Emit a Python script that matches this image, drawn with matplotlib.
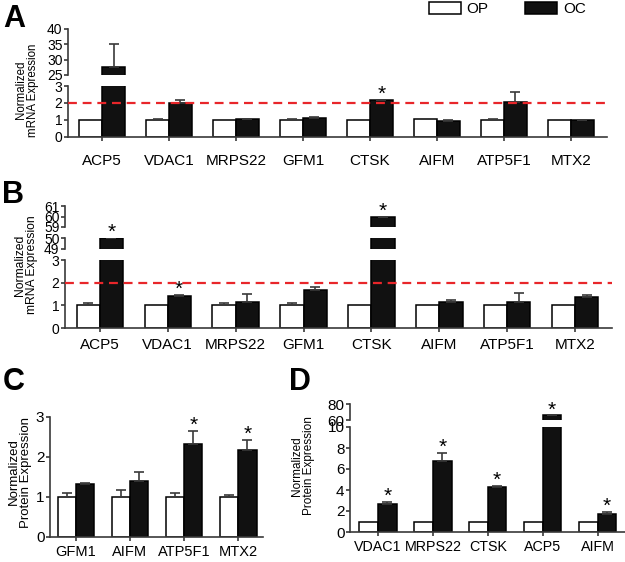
"""Recreate the OP vs OC mRNA / protein expression figure (panels A-D)."""

import matplotlib

matplotlib.use("Agg")

import matplotlib.pyplot as plt  # noqa: E402
import numpy as np  # noqa: E402
from matplotlib.patches import Patch  # noqa: E402

plt.rcParams["font.family"] = ["Liberation Sans", "DejaVu Sans"]

# ─── Data ────────────────────────────────────────────────────────────────────

genes_ab = ["ACP5", "VDAC1", "MRPS22", "GFM1", "CTSK", "AIFM", "ATP5F1", "MTX2"]

op_a = [1.0, 1.0, 1.0, 1.0, 1.0, 1.03, 1.0, 1.0]
op_err_a = [0.02, 0.03, 0.02, 0.03, 0.02, 0.05, 0.03, 0.02]
oc_a = [27.5, 2.0, 1.05, 1.12, 2.15, 0.95, 2.08, 1.0]
oc_err_a = [7.5, 0.2, 0.02, 0.04, 0.05, 0.03, 0.55, 0.02]
star_a = [False, False, False, False, True, False, False, False]

op_b = [1.0, 1.0, 1.0, 1.0, 1.0, 1.0, 1.0, 1.0]
op_err_b = [0.1, 0.03, 0.12, 0.11, 0.02, 0.02, 0.02, 0.02]
oc_b = [50.0, 1.42, 1.16, 1.67, 60.0, 1.16, 1.16, 1.38]
oc_err_b = [0.0, 0.04, 0.33, 0.12, 0.0, 0.07, 0.38, 0.09]
star_b = [True, True, False, False, True, False, False, False]

genes_c = ["GFM1", "AIFM", "ATP5F1", "MTX2"]
op_c = [1.0, 1.0, 1.0, 1.0]
op_err_c = [0.11, 0.18, 0.09, 0.05]
oc_c = [1.33, 1.41, 2.33, 2.18]
oc_err_c = [0.03, 0.22, 0.32, 0.25]
star_c = [False, False, True, True]

genes_d = ["VDAC1", "MRPS22", "CTSK", "ACP5", "AIFM"]
op_d = [1.0, 1.0, 1.0, 1.0, 1.0]
op_err_d = [0.0, 0.0, 0.0, 0.0, 0.0]
oc_d = [2.7, 6.75, 4.3, 66.0, 1.75]
oc_err_d = [0.15, 0.8, 0.12, 0.0, 0.2]
star_d = [True, True, True, True, True]

# ─── Layout helpers (pixel boxes on a 625x562 canvas) ────────────────────────

W, H = 625, 562
SPINE = "#3a3a3a"
RED = "#e8262a"

fig = plt.figure(figsize=(W / 100, H / 100), dpi=100)


def add_ax(x0, y0, x1, y1):
    """Axes from pixel box: left, top, right, bottom."""
    return fig.add_axes([x0 / W, 1 - y1 / H, (x1 - x0) / W, (y1 - y0) / H])


def style(ax, ylim, yticks, ylab_size, bottom=True):
    ax.set_facecolor("none")
    ax.set_ylim(*ylim)
    ax.set_yticks(yticks)
    for side in ("top", "right"):
        ax.spines[side].set_visible(False)
    ax.spines["left"].set_color(SPINE)
    ax.spines["left"].set_linewidth(1.2)
    ax.spines["bottom"].set_color(SPINE)
    ax.spines["bottom"].set_linewidth(1.2)
    ax.tick_params(axis="y", length=3, width=1.2, color=SPINE, pad=1,
                   labelsize=ylab_size)
    ax.tick_params(axis="x", length=3, width=1.2, color=SPINE)
    if not bottom:
        ax.spines["bottom"].set_visible(False)
        ax.set_xticks([])


def draw_bars(ax, op, op_err, oc, oc_err, w):
    x = np.arange(len(op))
    ekw = dict(ecolor=SPINE, elinewidth=1.2, capsize=3.5, capthick=1.2)
    zeros = np.zeros(len(op))
    ax.bar(x - w / 2, op, w, color="white", edgecolor="black", linewidth=1.1,
           yerr=[zeros, op_err], error_kw=ekw, zorder=2)
    ax.bar(x + w / 2, oc, w, color="#111111", edgecolor="black", linewidth=1.1,
           yerr=[zeros, oc_err], error_kw=ekw, zorder=2)
    return x


def stars(ax, x, w, oc, oc_err, flags, lo, hi, size=15):
    for xi, m, e, s in zip(x, oc, oc_err, flags):
        top = m + e
        if s and lo <= top <= hi:
            ax.annotate("*", xy=(xi + w / 2, top), xytext=(0, -3),
                        textcoords="offset points", ha="center", va="bottom",
                        fontsize=size, annotation_clip=False)


# ─── Panel A ─────────────────────────────────────────────────────────────────

w = 0.34
xlim_ab = (-0.51, 7.54)

a_lo = add_ax(68, 86, 607, 137)
a_hi = add_ax(68, 29, 607, 75)
for ax, lim, ticks, bot in ((a_lo, (0, 3), [0, 1, 2, 3], True),
                            (a_hi, (25, 40), [25, 30, 35, 40], False)):
    x = draw_bars(ax, op_a, op_err_a, oc_a, oc_err_a, w)
    style(ax, lim, ticks, 10, bottom=bot)
    ax.set_xlim(*xlim_ab)
    stars(ax, x, w, oc_a, oc_err_a, star_a, *lim)
a_lo.axhline(2, color=RED, linestyle=(0, (4, 2.6)), linewidth=1.6, zorder=5)
a_lo.set_xticks(np.arange(len(genes_ab)))
a_lo.set_xticklabels(genes_ab, fontsize=11)
a_lo.tick_params(axis="x", pad=9)

# ─── Panel B ─────────────────────────────────────────────────────────────────

b_lo = add_ax(65, 260, 612, 328)
b_mid = add_ax(65, 238, 612, 249)
b_hi = add_ax(65, 206, 612, 227)
for ax, lim, ticks, bot in ((b_lo, (0, 3), [0, 1, 2, 3], True),
                            (b_mid, (49, 50), [49, 50], False),
                            (b_hi, (59, 61), [59, 60, 61], False)):
    x = draw_bars(ax, op_b, op_err_b, oc_b, oc_err_b, w)
    style(ax, lim, ticks, 10, bottom=bot)
    ax.set_xlim(*xlim_ab)
    stars(ax, x, w, oc_b, oc_err_b, star_b, *lim)
b_lo.axhline(2, color=RED, linestyle=(0, (4, 2.6)), linewidth=1.6, zorder=5)
b_lo.set_xticks(np.arange(len(genes_ab)))
b_lo.set_xticklabels(genes_ab, fontsize=11)
b_lo.tick_params(axis="x", pad=4)

# ─── Panel C ─────────────────────────────────────────────────────────────────

c_ax = add_ax(50, 417, 263, 537)
x = draw_bars(c_ax, op_c, op_err_c, oc_c, oc_err_c, w)
style(c_ax, (0, 3), [0, 1, 2, 3], 11)
c_ax.set_xlim(-0.48, 3.46)
c_ax.set_xticks(x)
c_ax.set_xticklabels(genes_c, fontsize=10.5)
c_ax.tick_params(axis="x", pad=3)
stars(c_ax, x, w, oc_c, oc_err_c, star_c, 0, 3)

# ─── Panel D ─────────────────────────────────────────────────────────────────

d_lo = add_ax(350, 427, 625, 532)
d_hi = add_ax(350, 404, 625, 420)
for ax, lim, ticks, bot in ((d_lo, (0, 10), [0, 2, 4, 6, 8, 10], True),
                            (d_hi, (60, 80), [60, 80], False)):
    x = draw_bars(ax, op_d, op_err_d, oc_d, oc_err_d, w)
    style(ax, lim, ticks, 11, bottom=bot)
    ax.set_xlim(-0.51, 4.5)
    stars(ax, x, w, oc_d, oc_err_d, star_d, *lim)
d_lo.set_xticks(np.arange(len(genes_d)))
d_lo.set_xticklabels(genes_d, fontsize=10.3)
d_lo.tick_params(axis="x", pad=3)

# ─── Labels, panel letters, legend ───────────────────────────────────────────


def ylabel(xc, yc, text, size):
    fig.text(xc / W, 1 - yc / H, text, rotation=90, ha="center", va="center",
             fontsize=size, linespacing=1.05)


ylabel(27, 90, "Normalized\nmRNA Expression", 8.3)
ylabel(26, 265, "Normalized\nmRNA Expression", 8.7)
ylabel(20, 472, "Normalized\nProtein Expression", 9.5)
ylabel(303, 466, "Normalized\nProtein Expression", 8.5)

for letter, px, py in (("A", 3, 4), ("B", 2, 180), ("C", 3, 367), ("D", 289, 367)):
    fig.text(px / W, 1 - py / H, letter, fontsize=22, fontweight="bold",
             ha="left", va="top")

handles = [Patch(facecolor="white", edgecolor="black", linewidth=1.1),
           Patch(facecolor="#111111", edgecolor="black", linewidth=1.1)]
fig.legend(handles, ["OP", "OC"], ncol=2, frameon=False, fontsize=11,
           loc="upper left", bbox_to_anchor=(427 / W, 1 - 0 / H),
           borderpad=0.1, borderaxespad=0, handlelength=2.1,
           handleheight=0.9, handletextpad=0.4, columnspacing=2.4)

fig.savefig("out.png", dpi=100)
plt.close(fig)
